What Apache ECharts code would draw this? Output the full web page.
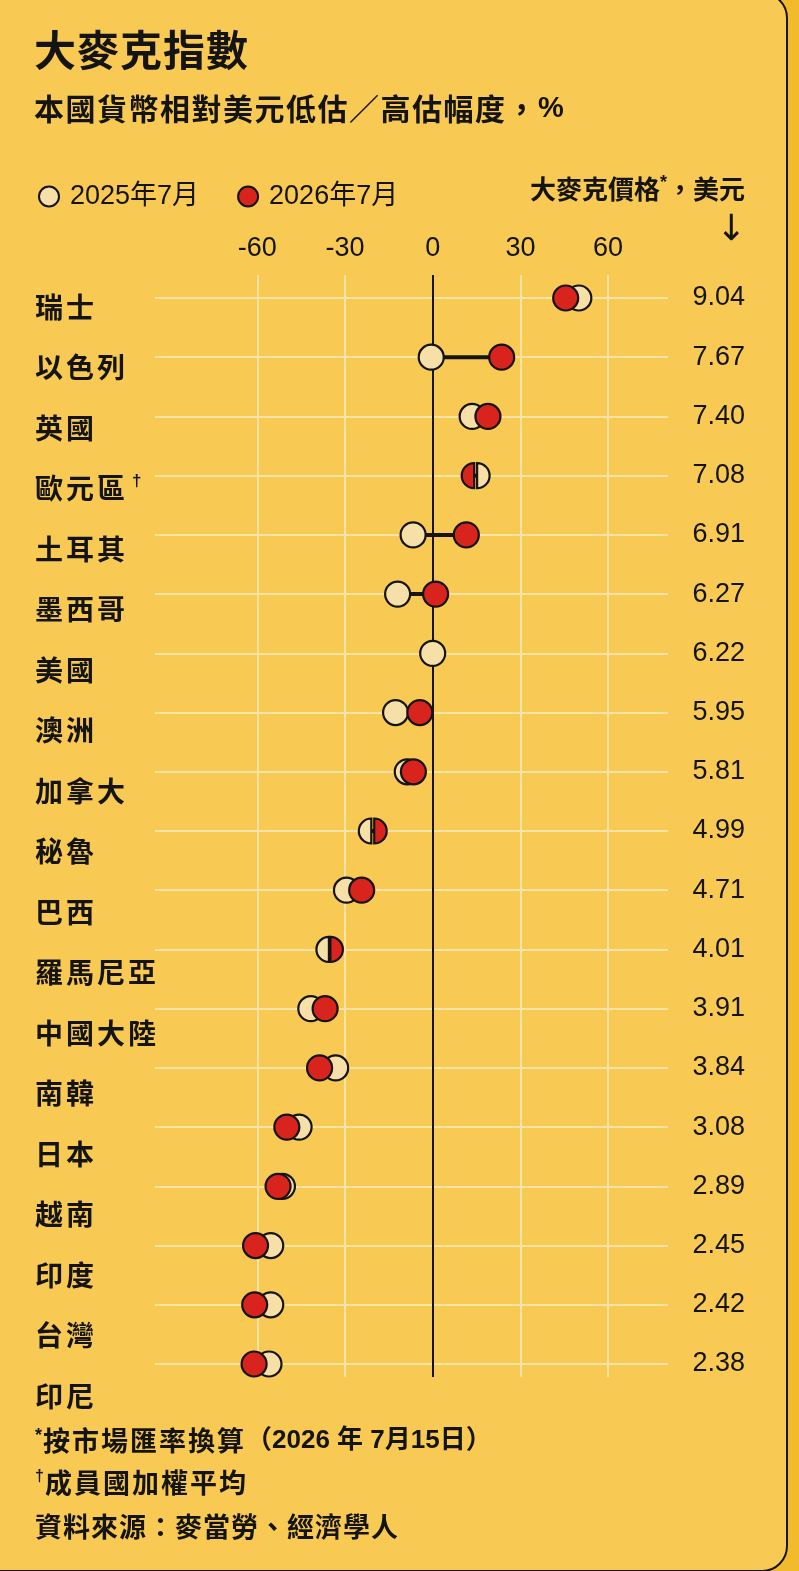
<!DOCTYPE html>
<html>
<head>
<meta charset="utf-8">
<script src="https://cdn.jsdelivr.net/npm/echarts@6.0.0/dist/echarts.min.js"></script>
<style>
html,body{margin:0;padding:0;width:799px;height:1571px;overflow:hidden;background:#F2BB2C;}
#card{position:absolute;left:-30px;top:-8px;width:818px;height:1580px;background:#F8C953;border:2px solid #151515;border-radius:26px;box-sizing:border-box;}
#chart{position:absolute;left:0;top:0;width:799px;height:1571px;}
</style>
</head>
<body>
<div id="card"></div>
<div id="chart"></div>
<script>
// ---- data ----
const countries = ['瑞士','以色列','英國','歐元區†','土耳其','墨西哥','美國','澳洲','加拿大','秘魯','巴西','羅馬尼亞','中國大陸','南韓','日本','越南','印度','台灣','印尼'];
const valuation2025 = [50, -0.5, 13.5, 15.2, -6.7, -12.0, 0, -12.7, -8.7, -21.0, -29.5, -35.5, -41.7, -33.2, -45.7, -51.4, -55.4, -55.4, -56.0];
const valuation2026 = [45.5, 23.6, 18.9, 14.2, 11.5, 1.0, null, -4.4, -6.6, -20.0, -24.3, -35.0, -36.8, -38.7, -49.9, -52.9, -60.6, -60.9, -61.1];
const bigMacPrice = [9.04, 7.67, 7.40, 7.08, 6.91, 6.27, 6.22, 5.95, 5.81, 4.99, 4.71, 4.01, 3.91, 3.84, 3.08, 2.89, 2.45, 2.42, 2.38];
const xTicks = [-60, -30, 0, 30, 60];
const seriesNames = ['2025年7月', '2026年7月'];

// ---- styles ----
const CJK = "'Noto Sans CJK TC','Noto Sans CJK SC',sans-serif";
const LAT = "'Liberation Sans',Arial,'Noto Sans CJK TC',sans-serif";
const INK = '#141414';
const CREAM = '#F7E0A8';
const RED = '#D9241E';
const GRID = '#FBE3A6';

const rows = countries.map((c, i) => [i, valuation2025[i], valuation2026[i]]);

function marker(api, val, other, fill) {
  const p = api.coord([val, api.value(0)]);
  const r = 12.5;
  const style = { fill: fill, stroke: INK, lineWidth: 2.2 };
  if (isFinite(other) && Math.abs(val - other) < 1.25) {
    const right = val > other;
    return { type: 'sector', shape: { cx: p[0], cy: p[1], r0: 0, r: r,
      startAngle: right ? -Math.PI / 2 : Math.PI / 2,
      endAngle: right ? Math.PI / 2 : Math.PI * 1.5, clockwise: true }, style: style };
  }
  return { type: 'circle', shape: { cx: p[0], cy: p[1], r: r }, style: style };
}

function spaced(str, key) { return [...str].map(ch => '{' + key + '|' + ch + '}').join(''); }

const chart = echarts.init(document.getElementById('chart'), null, { renderer: 'canvas' });

const gridLineColors = xTicks.map(v => v === 0 ? INK : GRID);

const option = {
  backgroundColor: 'transparent',
  animation: false,
  grid: [
    { left: 155, right: 131, top: 298, bottom: 207 },
    { left: 257.3, right: 190.9, top: 275, bottom: 194 },
    { left: 155, right: 131, top: 276.75, bottom: 144.75 }
  ],
  xAxis: [
    { gridIndex: 0, type: 'value', min: -95, max: 80.5, show: false, axisLine: { show: false, onZero: false } },
    { gridIndex: 1, type: 'value', min: xTicks[0], max: xTicks[xTicks.length - 1], interval: xTicks[1] - xTicks[0],
      position: 'top', axisLine: { show: false, onZero: false }, axisTick: { show: false },
      axisLabel: { margin: 13, fontSize: 27, color: INK, fontFamily: LAT },
      splitLine: { show: true, lineStyle: { color: gridLineColors, width: 2 } } },
    { gridIndex: 2, type: 'value', show: false, axisLine: { show: false, onZero: false } }
  ],
  yAxis: [
    { gridIndex: 0, type: 'category', data: countries, inverse: true, boundaryGap: false,
      axisLine: { show: false, onZero: false }, axisTick: { show: false }, axisLabel: { show: false },
      splitLine: { show: true, interval: 0, lineStyle: { color: GRID, width: 2 } } },
    { gridIndex: 0, type: 'category', data: bigMacPrice.map(v => v.toFixed(2)), position: 'right', inverse: true, boundaryGap: false,
      axisLine: { show: false, onZero: false }, axisTick: { show: false }, splitLine: { show: false },
      axisLabel: { interval: 0, align: 'right', margin: 77, fontSize: 27, color: INK, fontFamily: LAT } },
    { gridIndex: 1, type: 'value', show: false, axisLine: { show: false, onZero: false } },
    { gridIndex: 2, type: 'category', data: countries, inverse: true, boundaryGap: true,
      axisLine: { show: false, onZero: false }, axisTick: { show: false }, splitLine: { show: false },
      axisLabel: { interval: 0, align: 'left', margin: 120,
        formatter: v => {
          const chars = [...v];
          return chars.map((ch, k) => ch === '†' ? '{sup|' + ch + '}' : '{' + (k < chars.length - 1 ? 'c' : 'e') + '|' + ch + '}').join('');
        },
        rich: {
          c: { fontSize: 28, fontWeight: 'bold', fontFamily: CJK, color: INK, padding: [0, 3, 0, 0] },
          e: { fontSize: 28, fontWeight: 'bold', fontFamily: CJK, color: INK },
          sup: { fontSize: 17, fontWeight: 'bold', fontFamily: LAT, color: INK, verticalAlign: 'top', padding: [0, 0, 14, 4] }
        } } }
  ],
  legend: {
    left: 33, top: 178, itemWidth: 20, itemHeight: 20, itemGap: 38, selectedMode: false,
    textStyle: { fontSize: 27, color: INK, fontFamily: LAT, padding: [0, 0, 0, 6] },
    data: [
      { name: seriesNames[0], icon: 'circle', itemStyle: { color: CREAM, borderColor: INK, borderWidth: 2 } },
      { name: seriesNames[1], icon: 'circle', itemStyle: { color: RED, borderColor: INK, borderWidth: 2 } }
    ]
  },
  graphic: [
    { type: 'text', left: 34, top: 29, style: { text: spaced('大麥克指數', 't'), rich: { t: { fontSize: 42, fontWeight: 'bold', fontFamily: CJK, fill: INK, padding: [0, 1, 0, 0] } } } },
    { type: 'text', left: 34, top: 94, style: { text: spaced('本國貨幣相對美元低估／高估幅度，', 's') + '{p|%}', rich: {
      s: { fontSize: 30, fontWeight: 'bold', fontFamily: CJK, fill: INK, padding: [0, 1.5, 0, 0] },
      p: { fontSize: 29, fontWeight: 'bold', fontFamily: LAT, fill: INK } } } },
    { type: 'text', right: 54, top: 174, style: { text: '{a|大麥克價格}{s|*}{a|，美元}', rich: {
      a: { fontSize: 26, fontWeight: 'bold', fontFamily: CJK, fill: INK },
      s: { fontSize: 18, fontWeight: 'bold', fontFamily: LAT, fill: INK, verticalAlign: 'top', padding: [0, 0, 12, 0] } } } },
    { type: 'text', left: 716, top: 213, style: { text: '↓', fontSize: 36, fontFamily: "'DejaVu Sans',sans-serif", fill: INK } },
    { type: 'text', left: 35, top: 1427, style: { text: '{s|*}' + spaced('按市場匯率換算', 'f') + '{n|（2026 年 7月15日）}', rich: {
      s: { fontSize: 18, fontWeight: 'bold', fontFamily: LAT, fill: INK, verticalAlign: 'top', padding: [0, 1, 10, 0] },
      f: { fontSize: 27, fontWeight: 'bold', fontFamily: CJK, fill: INK, padding: [0, 2, 0, 0] },
      n: { fontSize: 26, fontWeight: 'bold', fontFamily: LAT, fill: INK } } } },
    { type: 'text', left: 35, top: 1469, style: { text: '{s|†}' + spaced('成員國加權平均', 'f'), rich: {
      s: { fontSize: 16, fontWeight: 'bold', fontFamily: LAT, fill: INK, verticalAlign: 'top', padding: [0, 1, 10, 0] },
      f: { fontSize: 27, fontWeight: 'bold', fontFamily: CJK, fill: INK, padding: [0, 2, 0, 0] } } } },
    { type: 'text', left: 35, top: 1513, style: { text: spaced('資料來源：麥當勞、經濟學人', 'f'), rich: {
      f: { fontSize: 27, fontWeight: 'bold', fontFamily: CJK, fill: INK, padding: [0, 1, 0, 0] } } } }
  ],
  series: [
    { type: 'custom', name: 'connector', xAxisIndex: 0, yAxisIndex: 0, z: 2, silent: true,
      encode: { x: [1, 2], y: 0 }, data: rows,
      renderItem: (params, api) => {
        const a = api.value(1), b = api.value(2);
        if (!isFinite(a) || !isFinite(b)) return null;
        const p1 = api.coord([a, api.value(0)]), p2 = api.coord([b, api.value(0)]);
        return { type: 'line', shape: { x1: p1[0], y1: p1[1], x2: p2[0], y2: p2[1] }, style: { stroke: INK, lineWidth: 4 } };
      } },
    { type: 'custom', name: seriesNames[0], xAxisIndex: 0, yAxisIndex: 0, z: 3,
      encode: { x: [1, 2], y: 0 }, data: rows,
      renderItem: (params, api) => {
        const a = api.value(1);
        if (!isFinite(a)) return null;
        return marker(api, a, api.value(2), CREAM);
      } },
    { type: 'custom', name: seriesNames[1], xAxisIndex: 0, yAxisIndex: 0, z: 4,
      encode: { x: [1, 2], y: 0 }, data: rows,
      renderItem: (params, api) => {
        const b = api.value(2);
        if (!isFinite(b)) return null;
        return marker(api, b, api.value(1), RED);
      } }
  ]
};
chart.setOption(option);
</script>
</body>
</html>
